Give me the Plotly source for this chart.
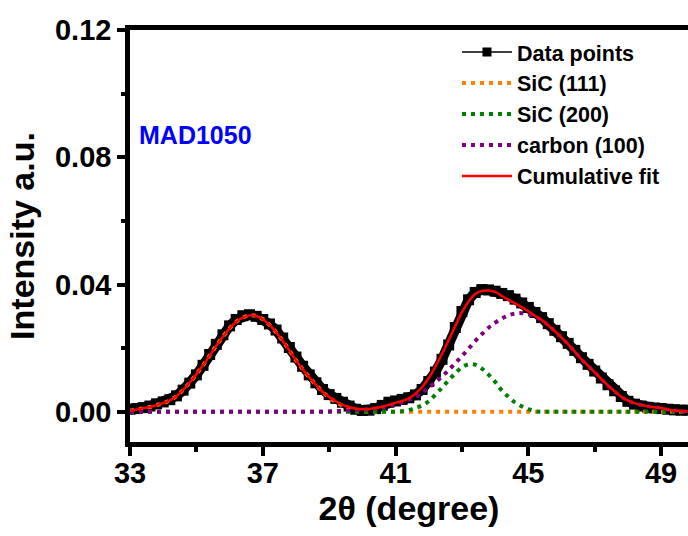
import plotly.graph_objects as go

# 2-theta grid (degree)
two_theta = [33.0, 33.2, 33.4, 33.6, 33.8, 34.0, 34.2, 34.4, 34.6, 34.8,
             35.0, 35.2, 35.4, 35.6, 35.8, 36.0, 36.2, 36.4, 36.6, 36.8,
             37.0, 37.2, 37.4, 37.6, 37.8, 38.0, 38.2, 38.4, 38.6, 38.8,
             39.0, 39.2, 39.4, 39.6, 39.8, 40.0, 40.2, 40.4, 40.6, 40.8,
             41.0, 41.2, 41.4, 41.6, 41.8, 42.0, 42.2, 42.4, 42.6, 42.8,
             43.0, 43.2, 43.4, 43.6, 43.8, 44.0, 44.2, 44.4, 44.6, 44.8,
             45.0, 45.2, 45.4, 45.6, 45.8, 46.0, 46.2, 46.4, 46.6, 46.8,
             47.0, 47.2, 47.4, 47.6, 47.8, 48.0, 48.2, 48.4, 48.6, 48.8,
             49.0, 49.2, 49.4, 49.6, 49.8]

data_points = [0.0008, 0.0010, 0.0013, 0.0018, 0.0025, 0.0031, 0.0038, 0.0050, 0.0068, 0.0090,
               0.0116, 0.0146, 0.0180, 0.0212, 0.0242, 0.0270, 0.0290, 0.0302, 0.0305, 0.0300,
               0.0290, 0.0276, 0.0257, 0.0232, 0.0202, 0.0172, 0.0143, 0.0116, 0.0091, 0.0070,
               0.0054, 0.0042, 0.0030, 0.0018, 0.0008, 0.0004, 0.0005, 0.0010, 0.0020, 0.0030,
               0.0034, 0.0039, 0.0044, 0.0053, 0.0070, 0.0095, 0.0125, 0.0165, 0.0210, 0.0265,
               0.0315, 0.0352, 0.0375, 0.0384, 0.0383, 0.0379, 0.0372, 0.0365, 0.0354, 0.0342,
               0.0328, 0.0312, 0.0296, 0.0277, 0.0256, 0.0236, 0.0215, 0.0193, 0.0170, 0.0149,
               0.0128, 0.0106, 0.0085, 0.0066, 0.0048, 0.0033, 0.0024, 0.0018, 0.0014, 0.0012,
               0.0010, 0.0008, 0.0006, 0.0005, 0.0005]

sic_111 = [0.0003, 0.0007, 0.0011, 0.0015, 0.0021, 0.0027, 0.0036, 0.0049, 0.0069, 0.0092,
           0.0118, 0.0146, 0.0177, 0.0208, 0.0236, 0.0262, 0.0283, 0.0296, 0.0303, 0.0301,
           0.0291, 0.0273, 0.0250, 0.0223, 0.0193, 0.0162, 0.0134, 0.0108, 0.0085, 0.0063,
           0.0045, 0.0031, 0.0019, 0.0011, 0.0004, 0.0001, 0.0, 0.0, 0.0, 0.0,
           0.0, 0.0, 0.0, 0.0, 0.0, 0.0, 0.0, 0.0, 0.0, 0.0,
           0.0, 0.0, 0.0, 0.0, 0.0, 0.0, 0.0, 0.0, 0.0, 0.0,
           0.0, 0.0, 0.0, 0.0, 0.0, 0.0, 0.0, 0.0, 0.0, 0.0,
           0.0, 0.0, 0.0, 0.0, 0.0, 0.0, 0.0, 0.0, 0.0, 0.0,
           0.0, 0.0, 0.0, 0.0, 0.0]

sic_200 = [0.0, 0.0, 0.0, 0.0, 0.0, 0.0, 0.0, 0.0, 0.0, 0.0,
           0.0, 0.0, 0.0, 0.0, 0.0, 0.0, 0.0, 0.0, 0.0, 0.0,
           0.0, 0.0, 0.0, 0.0, 0.0, 0.0, 0.0, 0.0, 0.0, 0.0,
           0.0, 0.0, 0.0, 0.0, 0.0, 0.0, 0.0, 0.0, 0.0, 0.0,
           0.0, 0.0002, 0.0005, 0.0012, 0.0020, 0.0033, 0.0054, 0.0076, 0.0099, 0.0121,
           0.0140, 0.0149, 0.0148, 0.0136, 0.0117, 0.0094, 0.0067, 0.0047, 0.0029, 0.0017,
           0.0008, 0.0002, 0.0, 0.0, 0.0, 0.0, 0.0, 0.0, 0.0, 0.0,
           0.0, 0.0, 0.0, 0.0, 0.0, 0.0, 0.0, 0.0, 0.0, 0.0,
           0.0, 0.0, 0.0, 0.0, 0.0]

carbon_100 = [0.0, 0.0, 0.0, 0.0, 0.0, 0.0, 0.0, 0.0, 0.0, 0.0,
              0.0, 0.0, 0.0, 0.0, 0.0, 0.0, 0.0, 0.0, 0.0, 0.0,
              0.0, 0.0, 0.0, 0.0, 0.0, 0.0, 0.0, 0.0, 0.0, 0.0,
              0.0001, 0.0002, 0.0003, 0.0004, 0.0006, 0.0007, 0.0009, 0.0011, 0.0014, 0.0018,
              0.0023, 0.0030, 0.0038, 0.0047, 0.0060, 0.0076, 0.0093, 0.0111, 0.0131, 0.0153,
              0.0175, 0.0198, 0.0222, 0.0244, 0.0264, 0.0280, 0.0293, 0.0303, 0.0309, 0.0310,
              0.0306, 0.0298, 0.0288, 0.0272, 0.0253, 0.0233, 0.0212, 0.0189, 0.0165, 0.0145,
              0.0124, 0.0103, 0.0082, 0.0064, 0.0047, 0.0035, 0.0027, 0.0021, 0.0017, 0.0014,
              0.0012, 0.0007, 0.0004, 0.0002, 0.0001]

cumulative_fit = [0.0003, 0.0007, 0.0011, 0.0015, 0.0021, 0.0027, 0.0036, 0.0049, 0.0069, 0.0092,
                  0.0118, 0.0146, 0.0177, 0.0208, 0.0236, 0.0262, 0.0283, 0.0296, 0.0303, 0.0301,
                  0.0291, 0.0273, 0.0250, 0.0223, 0.0193, 0.0162, 0.0134, 0.0108, 0.0085, 0.0063,
                  0.0046, 0.0033, 0.0022, 0.0015, 0.0010, 0.0008, 0.0009, 0.0012, 0.0016, 0.0022,
                  0.0028, 0.0034, 0.0042, 0.0057, 0.0078, 0.0106, 0.0142, 0.0182, 0.0225, 0.0270,
                  0.0313, 0.0347, 0.0370, 0.0380, 0.0381, 0.0377, 0.0364, 0.0352, 0.0341, 0.0329,
                  0.0316, 0.0302, 0.0289, 0.0272, 0.0253, 0.0233, 0.0212, 0.0189, 0.0165, 0.0145,
                  0.0124, 0.0103, 0.0082, 0.0064, 0.0047, 0.0035, 0.0027, 0.0021, 0.0017, 0.0014,
                  0.0012, 0.0007, 0.0004, 0.0002, 0.0001]

x_ticks = [33, 37, 41, 45, 49]
y_ticks = [0.00, 0.04, 0.08, 0.12]
y_tick_labels = ["0.00", "0.04", "0.08", "0.12"]

FONT = "Liberation Sans, Arial, sans-serif"
DOT = "4px,5px"

fig = go.Figure()

# thick band of data points (dense square markers)
fig.add_trace(go.Scatter(
    x=two_theta, y=data_points, mode="lines+markers",
    line=dict(color="black", width=10),
    marker=dict(symbol="square", size=11, color="black"),
    showlegend=False, hoverinfo="skip"))
# legend entry for the data points
fig.add_trace(go.Scatter(
    x=two_theta, y=data_points, mode="lines+markers", name="Data points",
    line=dict(color="black", width=1.5),
    marker=dict(symbol="square", size=9, color="black")))
fig.add_trace(go.Scatter(
    x=two_theta, y=sic_111, mode="lines", name="SiC (111)",
    line=dict(color="#FF8000", width=4, dash=DOT, shape="spline")))
fig.add_trace(go.Scatter(
    x=two_theta, y=sic_200, mode="lines", name="SiC (200)",
    line=dict(color="#008000", width=4, dash=DOT, shape="spline")))
fig.add_trace(go.Scatter(
    x=two_theta, y=carbon_100, mode="lines", name="carbon (100)",
    line=dict(color="#800080", width=4, dash=DOT, shape="spline")))
fig.add_trace(go.Scatter(
    x=two_theta, y=cumulative_fit, mode="lines", name="Cumulative fit",
    line=dict(color="#FF0000", width=2.5, shape="spline")))

fig.add_annotation(
    text="MAD1050", xref="paper", yref="paper", x=0.0125, y=0.744,
    xanchor="left", yanchor="middle", showarrow=False,
    font=dict(family=FONT, size=25, color="#0000FF", weight="bold"))

fig.update_layout(
    width=688, height=536,
    margin=dict(l=130, r=0, t=30, b=94),
    paper_bgcolor="white", plot_bgcolor="white",
    font=dict(family=FONT, color="black", weight="bold"),
    showlegend=True,
    legend=dict(x=0.586, y=0.996, xanchor="left", yanchor="top",
                font=dict(family=FONT, size=21.5, color="black", weight="bold"),
                bgcolor="rgba(0,0,0,0)", itemwidth=50),
    xaxis=dict(
        range=[33.0, 49.81], tickmode="array", tickvals=x_ticks,
        ticktext=[str(v) for v in x_ticks],
        showgrid=False, zeroline=False,
        showline=True, linecolor="black", linewidth=4.5, mirror=True,
        ticks="outside", ticklen=9, tickwidth=3.5, tickcolor="black",
        ticklabelstandoff=-8,
        minor=dict(dtick=2, tick0=33, ticks="outside", ticklen=5, tickwidth=3.5, tickcolor="black"),
        tickfont=dict(family=FONT, size=29, color="black", weight="bold"),
        title=dict(text="2θ (degree)", standoff=8,
                   font=dict(family=FONT, size=34, color="black", weight="bold"))),
    yaxis=dict(
        range=[-0.0095, 0.12], tickmode="array", tickvals=y_ticks, ticktext=y_tick_labels,
        showgrid=False, zeroline=False,
        showline=True, linecolor="black", linewidth=4.5, mirror=False,
        ticks="outside", ticklen=8, tickwidth=3.5, tickcolor="black",
        minor=dict(dtick=0.02, tick0=0, ticks="outside", ticklen=4, tickwidth=3.5, tickcolor="black"),
        tickfont=dict(family=FONT, size=29, color="black", weight="bold"),
        title=dict(text="Intensity a.u.", standoff=12,
                   font=dict(family=FONT, size=34, color="black", weight="bold"))),
)

fig.write_html("out.html")
